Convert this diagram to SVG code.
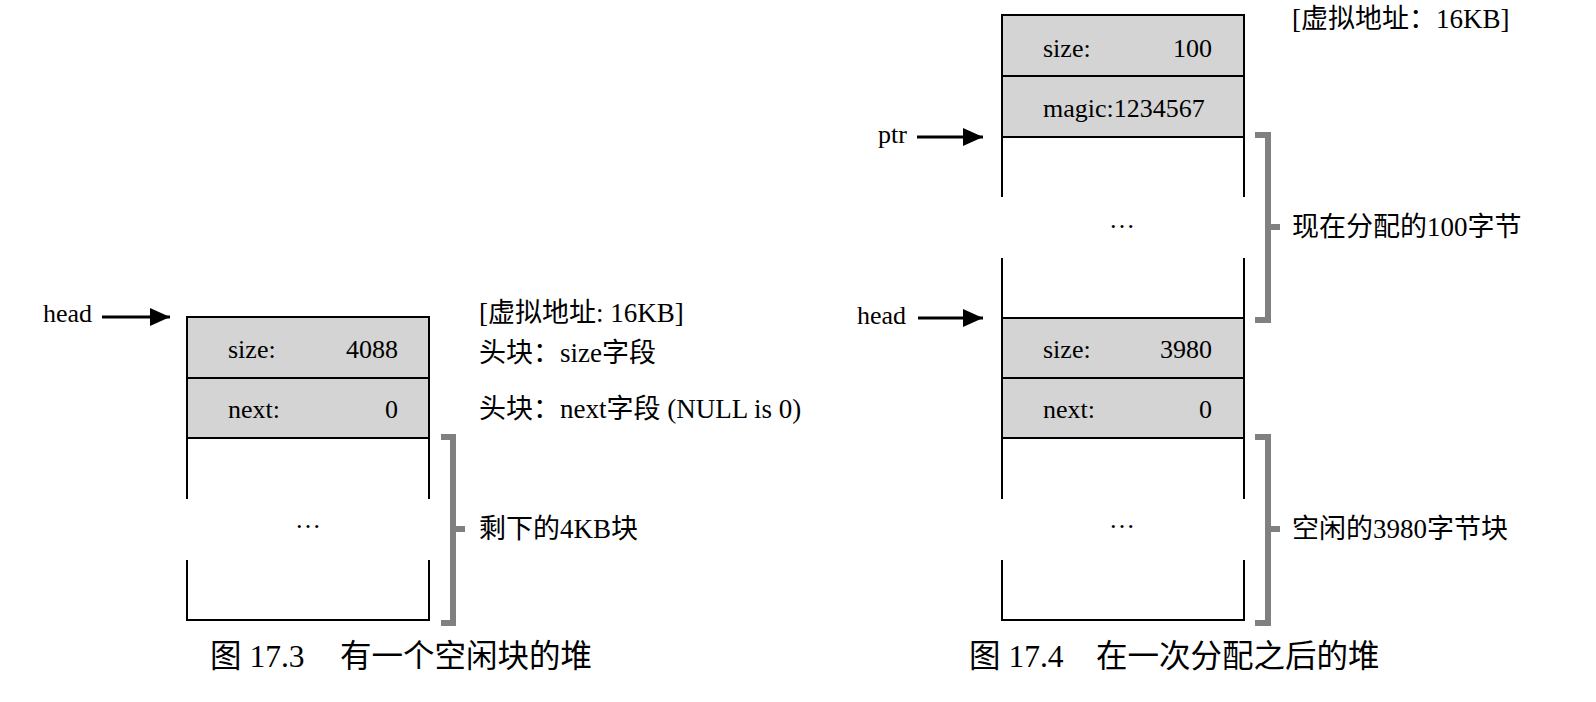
<svg xmlns="http://www.w3.org/2000/svg" width="1596" height="702" viewBox="0 0 1596 702">
<style>
.t{font-family:"Liberation Serif","Noto Sans CJK SC",serif;font-size:26px;fill:#000}
.c{font-family:"Liberation Serif","Noto Sans CJK SC",serif;font-size:27px;fill:#000}
.cap{font-family:"Liberation Serif","Noto Sans CJK SC",serif;font-size:31.5px;fill:#000}
.cell{fill:#d4d4d4;stroke:#000;stroke-width:2}
.edge{stroke:#000;stroke-width:2;fill:none}
.br{stroke:#808080;stroke-width:6;fill:none}
.arr{stroke:#000;stroke-width:3;fill:none;marker-end:url(#ah)}
</style>
<defs>
<marker id="ah" markerUnits="userSpaceOnUse" markerWidth="22" markerHeight="20" refX="20" refY="9" orient="auto">
<path d="M0,0 L20,9 L0,18 z" fill="#000"/>
</marker>
</defs>
<rect x="0" y="0" width="1596" height="702" fill="#fff"/>

<g id="heap1">
<rect class="cell" x="187" y="317" width="242" height="61"/>
<rect class="cell" x="187" y="378" width="242" height="60"/>
<path class="edge" d="M187,438 V499 M429,438 V499 M187,560 V620 H429 V560"/>
<text class="t" x="228" y="358">size:</text>
<text class="t" x="398" y="358" text-anchor="end">4088</text>
<text class="t" x="228" y="418">next:</text>
<text class="t" x="398" y="418" text-anchor="end">0</text>
<text class="t" x="308" y="528" text-anchor="middle">…</text>
</g>

<g id="bracket1">
<path class="br" d="M441,437 H453 V623 H441 M453,529 H465"/>
</g>

<g id="labels1">
<text class="c" x="479" y="322">[虚拟地址: 16KB]</text>
<text class="c" x="479" y="362">头块：size字段</text>
<text class="c" x="479" y="418">头块：next字段 (NULL is 0)</text>
<text class="c" x="479" y="538">剩下的4KB块</text>
</g>

<g id="heap2">
<rect class="cell" x="1002" y="15" width="242" height="61"/>
<rect class="cell" x="1002" y="76" width="242" height="61"/>
<path class="edge" d="M1002,137 V197 M1244,137 V197 M1002,258 V318 M1244,258 V318"/>
<rect class="cell" x="1002" y="318" width="242" height="60"/>
<rect class="cell" x="1002" y="378" width="242" height="60"/>
<path class="edge" d="M1002,438 V499 M1244,438 V499 M1002,560 V620 H1244 V560"/>
<text class="t" x="1043" y="57">size:</text>
<text class="t" x="1212" y="57" text-anchor="end">100</text>
<text class="t" x="1043" y="117">magic:1234567</text>
<text class="t" x="1122" y="228" text-anchor="middle">…</text>
<text class="t" x="1043" y="358">size:</text>
<text class="t" x="1212" y="358" text-anchor="end">3980</text>
<text class="t" x="1043" y="418">next:</text>
<text class="t" x="1212" y="418" text-anchor="end">0</text>
<text class="t" x="1122" y="528" text-anchor="middle">…</text>
</g>

<g id="bracket2">
<path class="br" d="M1255,135 H1268 V320 H1255 M1268,227 H1280"/>
<path class="br" d="M1255,437 H1268 V623 H1255 M1268,529 H1280"/>
</g>

<g id="labels2">
<text class="c" x="1292" y="28">[虚拟地址：16KB]</text>
<text class="c" x="1292" y="236">现在分配的100字节</text>
<text class="c" x="1292" y="538">空闲的3980字节块</text>
</g>

<g id="pointers">
<text class="t" x="43" y="322">head</text>
<text class="t" x="878" y="143">ptr</text>
<text class="t" x="857" y="324">head</text>
</g>

<g id="connectors">
<line class="arr" x1="102" y1="317" x2="170" y2="317"/>
<line class="arr" x1="917" y1="137" x2="983" y2="137"/>
<line class="arr" x1="918" y1="318" x2="983" y2="318"/>
</g>

<g id="captions">
<text class="cap" y="667"><tspan x="210">图 17.3</tspan><tspan x="340">有一个空闲块的堆</tspan></text>
<text class="cap" y="667"><tspan x="969">图 17.4</tspan><tspan x="1096">在一次分配之后的堆</tspan></text>
</g>
</svg>
